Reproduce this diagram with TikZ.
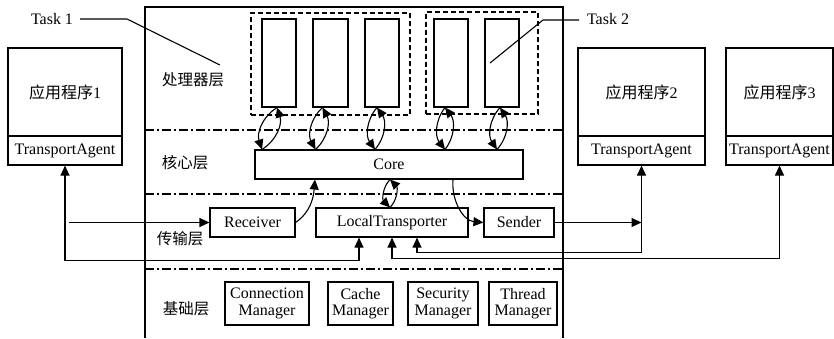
\documentclass[tikz,border=0pt]{standalone}
\usepackage{fontspec}
\setmainfont{Liberation Serif}
\newfontfamily\cjk{Noto Sans CJK SC}
\usetikzlibrary{arrows.meta,calc}

\tikzset{
  box/.style={draw, line width=1.1pt, inner sep=0pt, align=center,
              font=\fontsize{16}{16.5}\selectfont},
  taskbox/.style={draw, line width=1.7pt, dash pattern=on 5pt off 3pt, inner sep=0pt},
  layerline/.style={line width=1.5pt, dash pattern=on 9pt off 3pt on 2pt off 3pt},
  tip/.tip={Triangle[length=10pt,width=9pt]},
  arr/.style={line width=1.1pt, -tip},
  biarr/.style={line width=1.1pt, tip-tip},
  lbl/.style={font=\fontsize{16}{16.5}\selectfont, inner sep=0pt},
  layerlbl/.style={font=\cjk\fontsize{15.5}{16}\selectfont, inner sep=0pt},
}

\begin{document}
\begin{tikzpicture}[x=1pt, y=-1pt]
\useasboundingbox (0,0) rectangle (834,338);

% outer frame of the middleware
\draw[line width=1.1pt] (145,338) -- (145,7) -- (563,7) -- (563,338);

% layer separators
\draw[layerline] (145,130) -- (563,130);
\draw[layerline] (145,194) -- (563,194);
\draw[layerline] (145,269) -- (563,269);

% layer names
\node[layerlbl] (l1) at (193,80) {处理器层};
\node[layerlbl] (l2) at (185,163) {核心层};
\node[layerlbl] (l3) at (180,239) {传输层};
\node[layerlbl] (l4) at (186,309) {基础层};

% task groups
\node[taskbox, minimum width=159, minimum height=102] (task1) at (330.5,64) {};
\node[taskbox, minimum width=112, minimum height=102] (task2) at (482,63) {};

% processors
\node[box, minimum width=34, minimum height=88] (p1) at (279,63) {};
\node[box, minimum width=35, minimum height=88] (p2) at (330.5,63) {};
\node[box, minimum width=34, minimum height=88] (p3) at (382,63) {};
\node[box, minimum width=34, minimum height=88] (p4) at (451,63) {};
\node[box, minimum width=34, minimum height=88] (p5) at (502,63) {};

% core
\node[box, minimum width=268, minimum height=29] (core) at (389,164.5) {Core};

% transport layer
\node[box, minimum width=85, minimum height=29] (recv) at (252.5,222.5) {Receiver};
\node[box, minimum width=152, minimum height=29] (local) at (392,222.5) {LocalTransporter};
\node[box, minimum width=70, minimum height=29] (send) at (519,222.5) {Sender};

% base layer
\node[box, minimum width=84, minimum height=43] (conn) at (267,303.5) {Connection\\Manager};
\node[box, minimum width=65, minimum height=43] (cache) at (360.5,303.5) {Cache\\Manager};
\node[box, minimum width=70, minimum height=43] (sec) at (443,303.5) {Security\\Manager};
\node[box, minimum width=68, minimum height=43] (thr) at (523,303.5) {Thread\\Manager};

% applications
\node[box, minimum width=114, minimum height=88] (app1) at (65,92) {{\cjk 应用程序}1};
\node[box, minimum width=114, minimum height=29] (ta1) at (65,150.5) {TransportAgent};
\node[box, minimum width=127, minimum height=88] (app2) at (641.5,92) {{\cjk 应用程序}2};
\node[box, minimum width=127, minimum height=29] (ta2) at (641.5,150.5) {TransportAgent};
\node[box, minimum width=107, minimum height=88] (app3) at (779.5,92) {{\cjk 应用程序}3};
\node[box, minimum width=107, minimum height=29] (ta3) at (779.5,150.5) {TransportAgent};

% task labels
\node[lbl] (t1) at (52,19) {Task 1};
\node[lbl] (t2) at (608,19) {Task 2};
\coordinate (t1a) at (80,19);
\coordinate (t1b) at (127,19);
\coordinate (t1c) at (220,65);
\coordinate (t2a) at (579,20);
\coordinate (t2b) at (543,20);
\coordinate (t2c) at (490,63);
\draw[line width=1.1pt] (t1a) -- (t1b) -- (t1c);
\draw[line width=1.1pt] (t2a) -- (t2b) -- (t2c);

% processor <-> core exchanges
\foreach \p/\dt/\db in {p1/-2/-17, p2/-8/-15, p3/-5/-7, p4/-6/-6, p5/-2/-5}{
  \draw[arr] ($(core.north -| \p.south)+(\db,0)$) to[bend right=38] ($(\p.south)+(\dt,0)$);
  \draw[arr] ($(\p.south)+(\dt,0)$) to[bend right=38] ($(core.north -| \p.south)+(\db,0)$);
}

% core <-> transport
\draw[arr] (recv.east) to[out=35, in=-95] ($(core.south)+(-74,0)$);
\draw[arr] ($(core.south)+(64,0)$) to[out=-95, in=175] (send.west);
\draw[arr] ($(local.north)+(-2,0)$) to[bend right=45] ($(core.south)+(1,0)$);
\draw[arr] ($(core.south)+(1,0)$) to[bend right=45] ($(local.north)+(-2,0)$);

% external links
\coordinate (inx) at (69,222.5);
\draw[arr] (inx) -- (recv.west);
\draw[biarr] (ta1.south) |- ($(local.south)+(-33,23)$) -- ($(local.south)+(-33,0)$);
\draw[arr] (send.east) -- (send.east -| ta2.south);
\draw[biarr] (ta2.south) |- ($(local.south)+(25,15)$) -- ($(local.south)+(25,0)$);
\draw[biarr] (ta3.south) |- ($(local.south)+(0,21)$) -- (local.south);
\end{tikzpicture}
\end{document}
